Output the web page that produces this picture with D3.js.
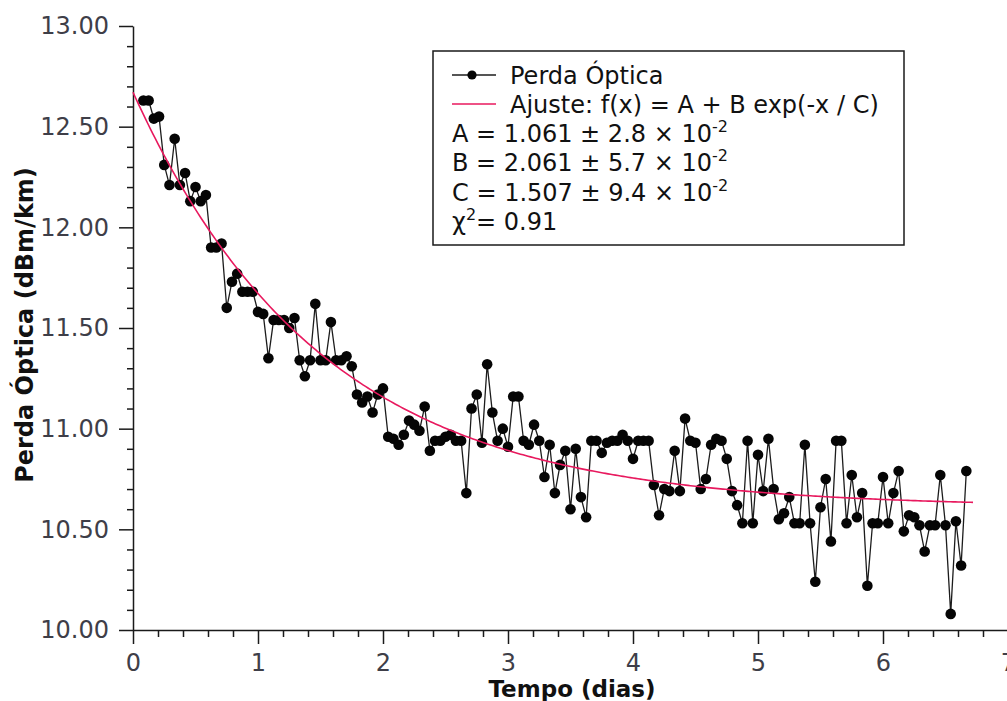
<!DOCTYPE html>
<html>
<head>
<meta charset="utf-8">
<script src="https://cdn.jsdelivr.net/npm/d3@7"></script>
<style>
  html, body { margin: 0; padding: 0; background: #ffffff; }
  svg { display: block; font-family: "DejaVu Sans", sans-serif; }
</style>
</head>
<body>
<svg id="chart" width="1007" height="701"></svg>
<script>
// ---------- DATA ----------
// sample times in hours (one measurement per hour)
const hours = [2,3,4,5,6,7,8,9,10,11,12,13,14,15,16,17,18,19,20,21,22,23,24,25,26,27,28,29,30,
  31,32,33,34,35,36,37,38,39,40,41,42,43,44,45,46,47,48,49,50,51,52,53,54,55,56,57,58,59,60,
  61,62,63,64,65,66,67,68,69,70,71,72,73,74,75,76,77,78,79,80,81,82,83,84,85,86,87,88,89,90,
  91,92,93,94,95,96,97,98,99,100,101,102,103,104,105,106,107,108,109,110,111,112,113,114,115,
  116,117,118,119,120,121,122,123,124,125,126,127,128,129,130,131,132,133,134,135,136,137,138,
  139,140,141,142,143,144,145,146,147,148,149,150,151,152,153,154,155,156,157,158,159,160];
// optical loss (dBm/km)
const loss = [
  12.63,12.63,12.54,12.55,12.31,12.21,12.44,12.21,12.27,12.13,12.20,12.13,12.16,
  11.90,11.90,11.92,11.60,11.73,11.77,11.68,11.68,11.68,11.58,11.57,11.35,11.54,11.54,11.54,11.50,11.55,
  11.34,11.26,11.34,11.62,11.34,11.34,11.53,11.34,11.34,11.36,11.31,11.17,11.13,11.16,11.08,11.17,11.20,
  10.96,10.95,10.92,10.97,11.04,11.02,10.99,11.11,10.89,10.94,10.94,10.96,10.97,10.94,10.94,10.68,
  11.10,11.17,10.93,11.32,11.08,10.94,11.00,10.91,11.16,11.16,10.94,10.92,11.02,10.94,10.76,10.92,
  10.68,10.82,10.89,10.60,10.90,10.66,10.56,
  10.94,10.94,10.88,10.93,10.94,10.94,10.97,10.94,10.85,10.94,10.94,10.94,10.72,10.57,10.70,10.69,
  10.89,10.69,11.05,10.94,10.93,10.70,10.75,10.92,10.95,10.94,10.85,10.69,10.62,10.53,10.94,10.53,
  10.87,10.69,10.95,10.70,10.55,10.58,10.66,10.53,10.53,10.92,10.53,10.24,10.61,10.75,10.44,10.94,
  10.94,10.53,10.77,10.56,10.68,10.22,10.53,10.53,10.76,10.53,10.68,10.79,10.49,10.57,10.56,10.52,
  10.39,10.52,10.52,10.77,10.52,10.08,10.54,10.32,10.79];
// fit parameters f(x) = A + B exp(-x / C) (A in units of 10 dBm/km as printed)
const fitA = 1.061, fitB = 2.061, fitC = 1.507;
const fitRange = [0, 6.72];
// tick values
const yMajorTicks = [10.0, 10.5, 11.0, 11.5, 12.0, 12.5, 13.0];
const xMajorTicks = [0, 1, 2, 3, 4, 5, 6, 7];
const yMinorTicks = [10.1,10.2,10.3,10.4,10.6,10.7,10.8,10.9,11.1,11.2,11.3,11.4,11.6,11.7,11.8,11.9,
  12.1,12.2,12.3,12.4,12.6,12.7,12.8,12.9];
const xMinorTicks = [0.2,0.4,0.6,0.8,1.2,1.4,1.6,1.8,2.2,2.4,2.6,2.8,3.2,3.4,3.6,3.8,4.2,4.4,4.6,4.8,
  5.2,5.4,5.6,5.8,6.2,6.4,6.6,6.8];
const legendLines = ["Perda Óptica", "Ajuste: f(x) = A + B exp(-x / C)"];
const paramLines = [
  {pre: "A = 1.061 ± 2.8 × 10", sup: "-2", post: ""},
  {pre: "B = 2.061 ± 5.7 × 10", sup: "-2", post: ""},
  {pre: "C = 1.507 ± 9.4 × 10", sup: "-2", post: ""},
  {pre: "χ", sup: "2", post: "= 0.91"}
];
const xTitle = "Tempo (dias)";
const yTitle = "Perda Óptica (dBm/km)";

// ---------- LAYOUT ----------
const svg = d3.select("#chart");
const x = d3.scaleLinear().domain([0, 7]).range([133, 1008]);
const y = d3.scaleLinear().domain([10, 13]).range([630, 26]);

const points = hours.map((h, i) => ({t: h / 24, v: loss[i]}));
const fitX = d3.range(fitRange[0], fitRange[1] + 1e-9, 0.02);
const fitPts = fitX.map(t => ({t, v: fitA * 10 + fitB * Math.exp(-t / fitC)}));

const tickColor = "#3e3e48";

// axes
const gx = svg.append("g").attr("transform", "translate(0,630)");
gx.call(d3.axisBottom(x).tickValues(xMajorTicks).tickFormat(d3.format("d"))
  .tickSize(14).tickSizeOuter(0).tickPadding(10));
const gxm = svg.append("g").attr("transform", "translate(0,630)");
gxm.call(d3.axisBottom(x).tickValues(xMinorTicks).tickFormat("").tickSize(7).tickSizeOuter(0));
gxm.select(".domain").remove();

const gy = svg.append("g").attr("transform", "translate(133,0)");
gy.call(d3.axisLeft(y).tickValues(yMajorTicks).tickFormat(d3.format(".2f"))
  .tickSize(14).tickSizeOuter(0).tickPadding(10));
const gym = svg.append("g").attr("transform", "translate(133,0)");
gym.call(d3.axisLeft(y).tickValues(yMinorTicks).tickFormat("").tickSize(6).tickSizeOuter(0));
gym.select(".domain").remove();

svg.selectAll(".domain, .tick line").attr("stroke", "#1a1a1a").attr("stroke-width", 1.5);
svg.selectAll(".tick text").attr("fill", tickColor)
  .style("font-family", "'DejaVu Sans', sans-serif").style("font-size", "24px");

// axis titles
svg.append("text").attr("x", 572).attr("y", 697).attr("text-anchor", "middle")
  .style("font-size", "23px").style("font-weight", "bold").attr("fill", "#111").text(xTitle);
svg.append("text").attr("transform", "translate(33,325) rotate(-90)").attr("text-anchor", "middle")
  .style("font-size", "24px").style("font-weight", "bold").attr("fill", "#111").text(yTitle);

// data line + markers
const line = d3.line().x(d => x(d.t)).y(d => y(d.v));
svg.append("path").datum(points).attr("d", line)
  .attr("fill", "none").attr("stroke", "#1c1c1c").attr("stroke-width", 1.3);
svg.append("g").selectAll("circle").data(points).join("circle")
  .attr("cx", d => x(d.t)).attr("cy", d => y(d.v)).attr("r", 5.3).attr("fill", "#050505");

// fit curve
svg.append("path").datum(fitPts).attr("d", line)
  .attr("fill", "none").attr("stroke", "#e8195e").attr("stroke-width", 1.6);

// legend
const lg = svg.append("g");
lg.append("rect").attr("x", 433).attr("y", 51).attr("width", 471).attr("height", 194)
  .attr("fill", "#ffffff").attr("stroke", "#1a1a1a").attr("stroke-width", 1.5);
lg.append("line").attr("x1", 452).attr("x2", 496).attr("y1", 75).attr("y2", 75)
  .attr("stroke", "#1c1c1c").attr("stroke-width", 1.3);
lg.append("circle").attr("cx", 472).attr("cy", 75).attr("r", 4.6).attr("fill", "#050505");
lg.append("line").attr("x1", 452).attr("x2", 496).attr("y1", 104).attr("y2", 104)
  .attr("stroke", "#e8195e").attr("stroke-width", 1.6);
legendLines.forEach((t, i) => {
  lg.append("text").attr("x", 510).attr("y", 83.5 + i * 29.3)
    .style("font-size", "24px").attr("fill", "#111").text(t);
});
paramLines.forEach((p, i) => {
  const tx = lg.append("text").attr("x", 452).attr("y", 142 + i * 29.3)
    .style("font-size", "24px").attr("fill", "#111");
  tx.append("tspan").text(p.pre);
  tx.append("tspan").attr("dy", -10).style("font-size", "16px").text(p.sup);
  if (p.post) tx.append("tspan").attr("dy", 10).text(p.post);
});
</script>
</body>
</html>
